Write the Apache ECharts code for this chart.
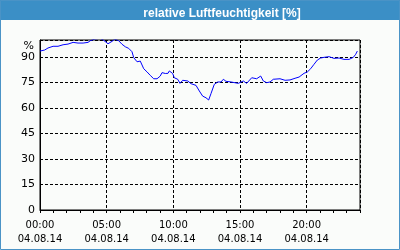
<!DOCTYPE html>
<html><head><meta charset="utf-8">
<script src="https://cdn.jsdelivr.net/npm/echarts@6/dist/echarts.min.js"></script>
<style>html,body{margin:0;padding:0;background:#fff}#c{width:400px;height:250px}</style>
</head><body><div id="c"></div>
<script>
var titleText = 'relative Luftfeuchtigkeit [%]';
var dateLabel = '04.08.14';
var xTickHours = [0, 5, 10, 15, 20];
var yTicks = [0, 15, 30, 45, 60, 75, 90];
var hours = [0.0,0.35,0.6,0.98,1.35,1.73,2.1,2.48,2.85,3.23,3.6,3.77,4.1,4.5,4.78,5.1,5.4,5.6,5.9,6.15,6.4,6.65,6.9,7.03,7.28,7.52,7.65,7.78,8.03,8.27,8.53,8.78,9.02,9.15,9.4,9.6,9.7,9.95,10.07,10.33,10.5,10.7,11.08,11.33,11.7,11.95,12.2,12.45,12.65,12.83,13.07,13.33,13.58,13.75,13.95,14.33,14.87,15.25,15.5,15.88,16.25,16.55,16.75,17.0,17.25,17.5,18.0,18.38,18.75,19.13,19.43,19.8,20.05,20.3,20.55,20.8,21.05,21.3,21.68,22.05,22.43,22.8,23.18,23.5,23.68,23.8];
var humidity = [93.5,94.1,95.3,96.3,96.3,97.2,97.6,98.6,98.2,98.2,98.6,99.6,100.5,101,99.8,97.8,99.2,100.5,99.6,97.5,96,95.1,93.1,89.6,87.2,87.6,86.6,83.1,81.2,79.2,77.2,77.2,78.8,80.8,80.3,80.4,81.8,80.3,77.8,76.9,74.5,76.3,75.9,74.3,73.3,70,67,66,64.7,68.6,73.9,75.3,75.3,76.9,75.7,75.3,74.5,75.9,74.5,77.8,77.2,78.8,75.9,74.9,75.3,76.9,77.2,76.3,76.5,77.5,78.2,80.4,81.2,83.1,85.7,88.2,89.4,89.8,90.2,89.2,89.4,88.6,88.6,89.8,91.6,93.5];

var data = hours.map(function(h, i){ return [h, humidity[i]]; });
function pad(n){ return (n < 10 ? '0' : '') + n; }
var font = 'DejaVu Sans';
var chart = echarts.init(document.getElementById('c'), null, {renderer:'canvas'});
chart.setOption({
  animation: false,
  backgroundColor: '#fafcfa',
  graphic: [
    {type:'rect', shape:{x:0,y:0,width:400,height:20}, style:{fill:'#3b8fc6'}, z:0},
    {type:'rect', shape:{x:0.5,y:0.5,width:399,height:249}, style:{fill:null, stroke:'#4a93c6', lineWidth:1}, z:0}
  ],
  title: {
    text: titleText, left: 217, top: 3, textAlign: 'center',
    textStyle: {color:'#ffffff', fontFamily:'Liberation Sans', fontWeight:'bold', fontSize:12}
  },
  grid: {left:40, right:40, top:40, bottom:40, show:true, borderColor:'#000', borderWidth:1, backgroundColor:'transparent'},
  xAxis: [{
    type:'value', min:0, max:24, interval:5,
    axisLine:{show:true, lineStyle:{color:'#000', width:1}},
    axisTick:{show:false},
    splitLine:{show:true, lineStyle:{color:'#000', type:[3,2], width:1}},
    axisLabel:{
      color:'#000', fontFamily:font, fontSize:10, margin:8, lineHeight:14,
      formatter:function(v){ return xTickHours.indexOf(v) >= 0 ? pad(v) + ':00\n' + dateLabel : ''; },
      showMaxLabel:false
    }
  },{
    type:'value', min:0, max:24, interval:1, position:'bottom',
    axisLine:{show:false}, axisLabel:{show:false}, splitLine:{show:false},
    axisTick:{show:true, inside:false, length:3, lineStyle:{color:'#000'}}
  }],
  yAxis: {
    type:'value', min:0, max:100, interval:15,
    name:'%', nameLocation:'end', nameGap:-4,
    nameTextStyle:{color:'#000', fontFamily:font, fontSize:11, align:'right', padding:[0,6,0,0], verticalAlign:'top'},
    axisLine:{show:true, lineStyle:{color:'#000'}},
    axisTick:{show:false},
    splitLine:{show:true, lineStyle:{color:'#000', type:[3,2], width:1}},
    axisLabel:{color:'#000', fontFamily:font, fontSize:11, margin:5,
      formatter:function(v){ return yTicks.indexOf(v) >= 0 ? String(v) : ''; }}
  },
  series: [{
    type:'line', xAxisIndex:0, data:data, showSymbol:false, clip:true,
    lineStyle:{color:'#0000ff', width:1}
  }]
});
</script></body></html>
